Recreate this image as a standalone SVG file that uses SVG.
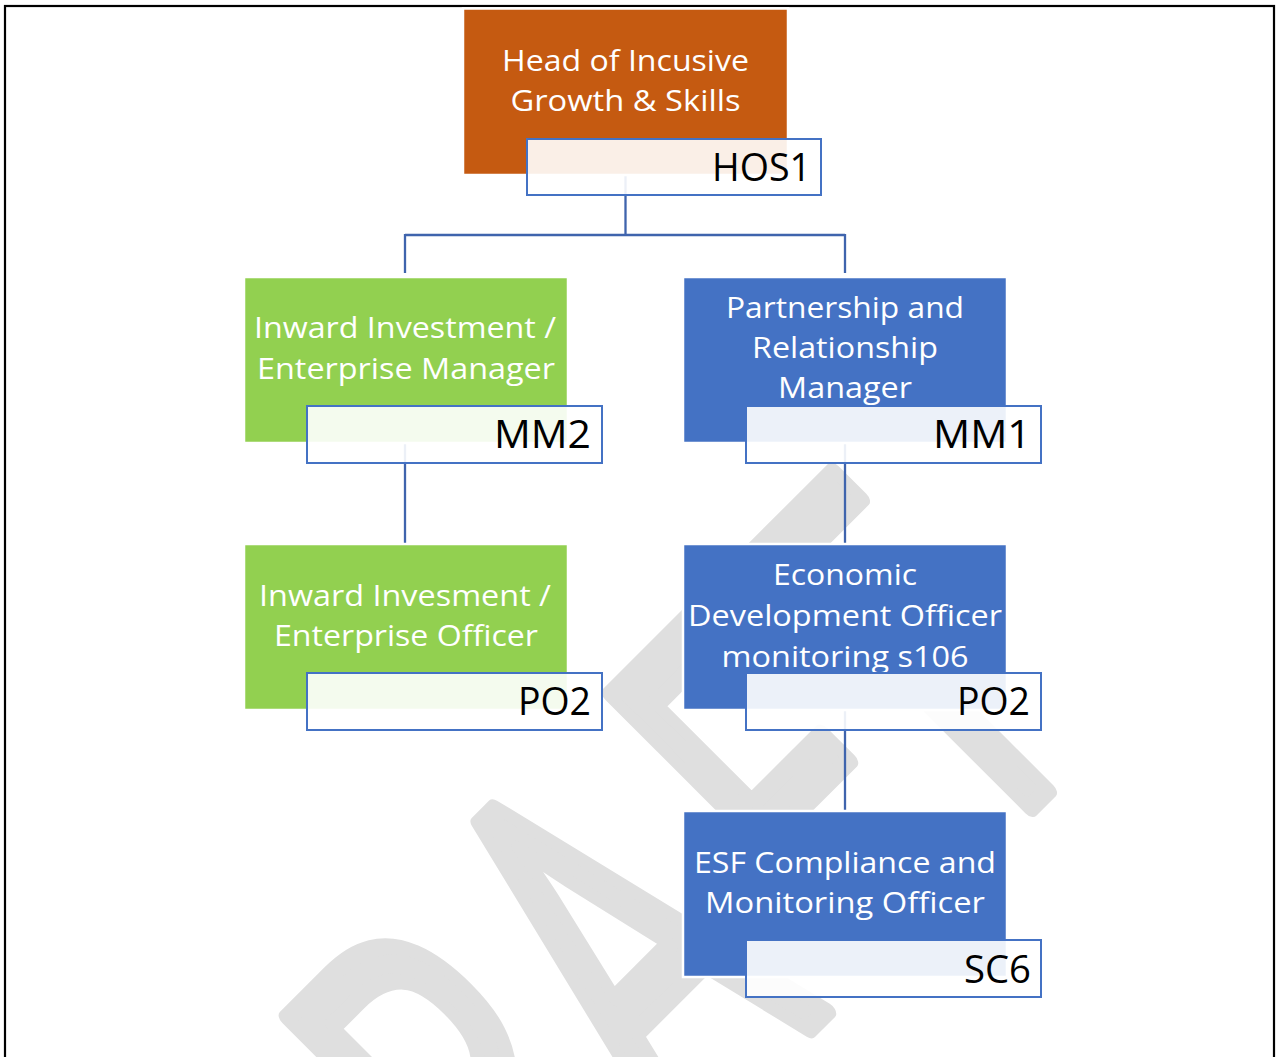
<svg xmlns="http://www.w3.org/2000/svg" width="1276" height="1057" viewBox="0 0 1276 1057">
  <style>
    .node { stroke: #ffffff; stroke-width: 2.5; }
    .orange { fill: #C55A11; }
    .green { fill: #92D050; }
    .blue { fill: #4472C4; }
    .title { font-family: "Open Sans", "Liberation Sans", sans-serif; font-size: 30px; fill: #ffffff; text-anchor: middle; }
    .lbox { fill: #ffffff; fill-opacity: 0.9; stroke: #4472C4; stroke-width: 2; }
    .ltext { font-family: "Open Sans", "Liberation Sans", sans-serif; font-size: 38.5px; fill: #000000; text-anchor: end; }
    .conn { fill: none; stroke: #3F64AD; stroke-width: 2.3; }
    .wm { font-family: "Open Sans", "Liberation Sans", sans-serif; font-size: 330px; fill: #dfdfdf; stroke: #dfdfdf; stroke-width: 16; stroke-linejoin: round; }
  </style>

  <rect x="5" y="6" width="1269" height="1080" fill="none" stroke="#000000" stroke-width="2.2"/>

  <g id="watermark">
    <text class="wm" transform="rotate(-45) scale(1,1.6)" x="-788 -550 -337 -93 79" y="812.5" vector-effect="non-scaling-stroke">DRAFT</text>
  </g>

  <g id="connectors">
    <path class="conn" d="M625.5 175 V235 M405 235 H845 M405 234 V273 M845 234 V273"/>
    <path class="conn" d="M405 443 V544"/>
    <path class="conn" d="M845 443 V544"/>
    <path class="conn" d="M845 710 V811"/>
  </g>

  <g id="node-hos1">
    <rect class="node orange" x="463" y="8.5" width="325" height="166.5"/>
    <text class="title" x="625.5" y="71" textLength="247" lengthAdjust="spacingAndGlyphs">Head of Incusive</text>
    <text class="title" x="625.5" y="111" textLength="230" lengthAdjust="spacingAndGlyphs">Growth &amp; Skills</text>
    <rect class="lbox" x="527" y="139" width="294" height="56"/>
    <text class="ltext" x="811" y="181" textLength="99" lengthAdjust="spacingAndGlyphs">HOS1</text>
  </g>

  <g id="node-mm2">
    <rect class="node green" x="244" y="277" width="324" height="166"/>
    <text class="title" x="405" y="338" textLength="302" lengthAdjust="spacingAndGlyphs">Inward Investment /</text>
    <text class="title" x="406" y="379" textLength="298" lengthAdjust="spacingAndGlyphs">Enterprise Manager</text>
    <rect class="lbox" x="307" y="406" width="295" height="57"/>
    <text class="ltext" x="591" y="448" textLength="97" lengthAdjust="spacingAndGlyphs">MM2</text>
  </g>

  <g id="node-mm1">
    <rect class="node blue" x="683" y="277" width="324" height="166"/>
    <text class="title" x="845" y="318" textLength="238" lengthAdjust="spacingAndGlyphs">Partnership and</text>
    <text class="title" x="845" y="358" textLength="186" lengthAdjust="spacingAndGlyphs">Relationship</text>
    <text class="title" x="845" y="398" textLength="134" lengthAdjust="spacingAndGlyphs">Manager</text>
    <rect class="lbox" x="746" y="406" width="295" height="57"/>
    <text class="ltext" x="1031" y="448" textLength="98" lengthAdjust="spacingAndGlyphs">MM1</text>
  </g>

  <g id="node-po2-left">
    <rect class="node green" x="244" y="544" width="324" height="166"/>
    <text class="title" x="405" y="606" textLength="292" lengthAdjust="spacingAndGlyphs">Inward Invesment /</text>
    <text class="title" x="406" y="646" textLength="264" lengthAdjust="spacingAndGlyphs">Enterprise Officer</text>
    <rect class="lbox" x="307" y="673" width="295" height="57"/>
    <text class="ltext" x="591" y="715" textLength="73" lengthAdjust="spacingAndGlyphs">PO2</text>
  </g>

  <g id="node-po2-right">
    <rect class="node blue" x="683" y="544" width="324" height="166"/>
    <text class="title" x="845" y="585" textLength="144" lengthAdjust="spacingAndGlyphs">Economic</text>
    <text class="title" x="845" y="626" textLength="314" lengthAdjust="spacingAndGlyphs">Development Officer</text>
    <text class="title" x="845" y="667" textLength="247" lengthAdjust="spacingAndGlyphs">monitoring s106</text>
    <rect class="lbox" x="746" y="673" width="295" height="57"/>
    <text class="ltext" x="1030" y="715" textLength="73" lengthAdjust="spacingAndGlyphs">PO2</text>
  </g>

  <g id="node-sc6">
    <rect class="node blue" x="683" y="811" width="324" height="166"/>
    <text class="title" x="845" y="873" textLength="302" lengthAdjust="spacingAndGlyphs">ESF Compliance and</text>
    <text class="title" x="845" y="913" textLength="280" lengthAdjust="spacingAndGlyphs">Monitoring Officer</text>
    <rect class="lbox" x="746" y="940" width="295" height="57"/>
    <text class="ltext" x="1031" y="983" textLength="67" lengthAdjust="spacingAndGlyphs">SC6</text>
  </g>
</svg>
